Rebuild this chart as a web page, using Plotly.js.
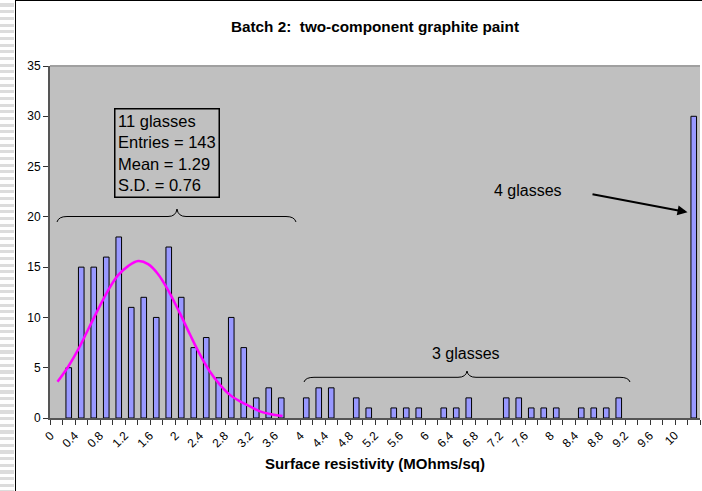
<!DOCTYPE html>
<html>
<head>
<meta charset="utf-8">
<script src="https://cdn.plot.ly/plotly-3.0.1.min.js"></script>
<style>
  html, body { margin: 0; padding: 0; background: #fff; }
  #wrap { position: relative; width: 702px; height: 491px; overflow: hidden; }
  /* worksheet strip on the left edge */
  #sheet { position: absolute; left: 0; top: 0; width: 14px; height: 491px;
           background: repeating-linear-gradient(to bottom, #ffffff 0px, #ffffff 3.5px, #dcdcdc 3.5px, #dcdcdc 6.67px); }
  /* chart area frame */
  #frame { position: absolute; left: 15px; top: 0; width: 700px; height: 500px;
           border-left: 1.5px solid #000; border-top: 1.5px solid #000; background: #fff; box-sizing: border-box; }
  #chart { position: absolute; left: 0; top: 0; width: 702px; height: 491px; }
</style>
</head>
<body>
<div id="wrap">
  <div id="sheet"></div>
  <div id="frame"></div>
  <div id="chart"></div>
</div>
<script>
// Histogram bins (MOhms/sq) and the number of entries in each bin
const binStarts = [0, 0.2, 0.4, 0.6, 0.8, 1.0, 1.2, 1.4, 1.6, 1.8,
                   2.0, 2.2, 2.4, 2.6, 2.8, 3.0, 3.2, 3.4, 3.6, 3.8,
                   4.0, 4.2, 4.4, 4.6, 4.8, 5.0, 5.2, 5.4, 5.6, 5.8,
                   6.0, 6.2, 6.4, 6.6, 6.8, 7.0, 7.2, 7.4, 7.6, 7.8,
                   8.0, 8.2, 8.4, 8.6, 8.8, 9.0, 9.2, 9.4, 9.6, 9.8,
                   10.0, 10.2];
const counts = [0, 5, 15, 15, 16, 18, 11, 12, 10, 17,
                12, 7, 8, 4, 10, 7, 2, 3, 2, 0,
                2, 3, 3, 0, 2, 1, 0, 1, 1, 1,
                0, 1, 1, 2, 0, 0, 2, 2, 1, 1,
                1, 0, 1, 1, 1, 2, 0, 0, 0, 0,
                0, 30];

// Fitted curve for the 11-glass group
const fitX = [0.02, 0.19, 0.35, 0.51, 0.67, 0.83, 0.99, 1.15, 1.31, 1.47, 1.63, 1.80,
              1.98, 2.14, 2.30, 2.46, 2.62, 2.78, 2.94, 3.10, 3.26, 3.42, 3.62];
const fitY = [3.6, 5.1, 6.8, 8.8, 10.8, 12.7, 14.2, 15.1, 15.6, 15.3, 14.3, 12.6,
              10.4, 8.3, 6.3, 4.6, 3.3, 2.3, 1.65, 1.15, 0.66, 0.40, 0.2];

// Category labels shown under the axis, one every second bin
const tickLabels = ["0", "0.4", "0.8", "1.2", "1.6", "2", "2.4", "2.8", "3.2", "3.6",
                    "4", "4.4", "4.8", "5.2", "5.6", "6", "6.4", "6.8", "7.2", "7.6",
                    "8", "8.4", "8.8", "9.2", "9.6", "10"];
const tickValues = tickLabels.map(Number);

const FONT = "Arial, 'Liberation Sans', sans-serif";

// plot area in pixels: left 50, right 700, top 66, bottom 418
const PL = 50, PR = 700, PT = 66, PB = 418;
const px = v => (v - PL) / (PR - PL);
const py = v => (PB - v) / (PB - PT);

// curly brace path in paper units from pixel anchors
function brace(x0, x1, yb, tipX, tipY, endY) {
  const P = (x, y) => px(x).toFixed(5) + "," + py(y).toFixed(5);
  return "M " + P(x0, endY) +
         " Q " + P(x0 + 1.5, yb) + " " + P(x0 + 10, yb) +
         " L " + P(tipX - 9, yb) +
         " Q " + P(tipX - 1, yb) + " " + P(tipX, tipY) +
         " Q " + P(tipX + 1, yb) + " " + P(tipX + 9, yb) +
         " L " + P(x1 - 10, yb) +
         " Q " + P(x1 - 1.5, yb) + " " + P(x1, endY);
}

const xRange = [-0.1, 10.3];

const traces = [
  {
    type: "bar",
    x: binStarts,
    // empty bins are left undrawn
    y: counts.map(c => (c === 0 ? null : c)),
    width: 0.09,
    marker: { color: "#9999ff", line: { color: "#000000", width: 1 } },
    hoverinfo: "x+y"
  },
  {
    type: "scatter",
    mode: "lines",
    x: fitX,
    y: fitY,
    line: { color: "#ff00ff", width: 2.5, shape: "spline", smoothing: 1 },
    hoverinfo: "skip"
  }
];

// slanted category labels, placed on the x scale
const labelNotes = tickLabels.map((t, i) => ({
  xref: "x", yref: "paper",
  x: tickValues[i], y: py(427),
  xanchor: "right", yanchor: "top",
  xshift: 2,
  text: t, textangle: -45, showarrow: false,
  font: { family: FONT, size: 12, color: "#000" },
  borderpad: 0
}));

const layout = {
  width: 702,
  height: 491,
  margin: { l: PL, r: 702 - PR, t: PT, b: 491 - PB },
  paper_bgcolor: "rgba(0,0,0,0)",
  plot_bgcolor: "#c0c0c0",
  showlegend: false,
  bargap: 0,
  font: { family: FONT, size: 12, color: "#000" },
  title: {
    text: "<b>Batch 2:\u00a0 two-component graphite paint</b>",
    font: { family: FONT, size: 15.3, color: "#000" },
    xref: "container", x: 375 / 702, xanchor: "center",
    yref: "container", y: 1 - 27 / 491, yanchor: "middle"
  },
  // tick marks on the bin boundaries
  xaxis: {
    range: xRange,
    tickmode: "linear", tick0: -0.1, dtick: 0.2,
    ticks: "outside", ticklen: 5, tickwidth: 1, tickcolor: "#333",
    showticklabels: false,
    showgrid: false, zeroline: false,
    showline: true, linecolor: "#555", linewidth: 2,
    fixedrange: true,
    title: { text: "<b>Surface resistivity (MOhms/sq)</b>", font: { family: FONT, size: 15 }, standoff: 34 }
  },
  yaxis: {
    range: [0, 35],
    tickmode: "linear", tick0: 0, dtick: 5,
    ticks: "outside", ticklen: 5, tickwidth: 1, tickcolor: "#333",
    tickfont: { family: FONT, size: 12 },
    showgrid: false, zeroline: false,
    showline: true, linecolor: "#555", linewidth: 2,
    fixedrange: true
  },
  shapes: [
    // plot area top border
    { type: "line", xref: "paper", yref: "paper", x0: 0, x1: 1, y0: 1, y1: 1,
      line: { color: "#a0a0a0", width: 2 } },
    // brace over the 11-glass group
    { type: "path", xref: "paper", yref: "paper",
      path: brace(57, 296, 216.5, 177, 209, 222),
      line: { color: "#000", width: 1 } },
    // brace over the 3-glass group
    { type: "path", xref: "paper", yref: "paper",
      path: brace(304, 630, 377.3, 467, 371, 382),
      line: { color: "#000", width: 1 } }
  ],
  annotations: labelNotes.concat([
    {
      xref: "paper", yref: "paper",
      x: px(114), y: py(107.7), xanchor: "left", yanchor: "top",
      text: "11 glasses<br>Entries = 143<br>Mean = 1.29<br>S.D. = 0.76",
      align: "left", showarrow: false,
      font: { family: FONT, size: 16.5, color: "#000" },
      bordercolor: "#000", borderwidth: 1.5, borderpad: 2.5
    },
    {
      xref: "paper", yref: "paper",
      x: px(466), y: py(353), xanchor: "center", yanchor: "middle",
      text: "3 glasses", showarrow: false,
      font: { family: FONT, size: 16, color: "#000" }
    },
    {
      xref: "paper", yref: "paper",
      x: px(527.5), y: py(190), xanchor: "center", yanchor: "middle",
      text: "4 glasses", showarrow: false,
      font: { family: FONT, size: 16, color: "#000" }
    },
    {
      xref: "paper", yref: "paper",
      x: px(687.5), y: py(212.3),
      text: "", showarrow: true,
      ax: 591 - 687.5, ay: 194 - 212.3,
      arrowhead: 2, arrowsize: 1, arrowwidth: 2, arrowcolor: "#000"
    }
  ])
};

Plotly.newPlot("chart", traces, layout, { staticPlot: true, displayModeBar: false });
</script>
</body>
</html>
